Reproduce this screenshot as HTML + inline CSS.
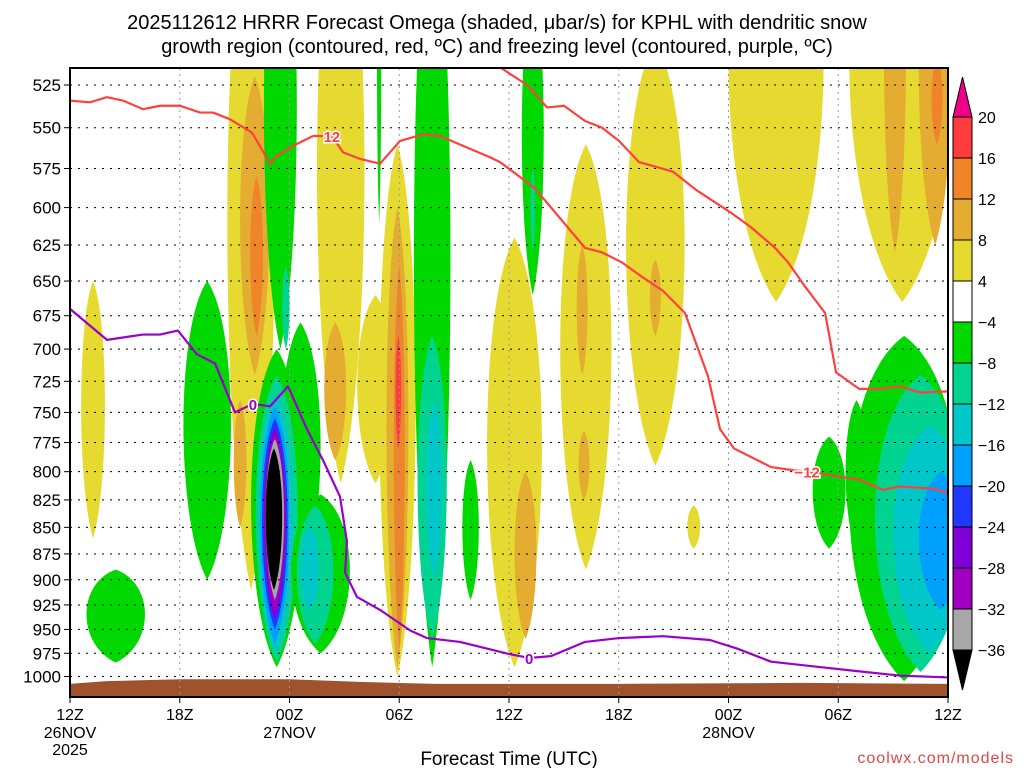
<!DOCTYPE html>
<html><head><meta charset="utf-8"><style>
body{margin:0;background:#fff;width:1024px;height:768px;overflow:hidden;font-family:"Liberation Sans",sans-serif}
svg text{font-family:"Liberation Sans",sans-serif}
</style></head><body>
<svg id="chart" width="1024" height="768" viewBox="0 0 1024 768" xmlns="http://www.w3.org/2000/svg">
<text x="497" y="29" font-size="20" text-anchor="middle" fill="#000">2025112612 HRRR Forecast Omega (shaded, μbar/s) for KPHL with dendritic snow</text>
<text x="497" y="53" font-size="20" text-anchor="middle" fill="#000">growth region (contoured, red, ºC) and freezing level (contoured, purple, ºC)</text>
<defs><clipPath id="plotclip"><rect x="70" y="68" width="878" height="629"/></clipPath></defs>
<g id="field" clip-path="url(#plotclip)"></g>
<g id="grid"></g>
<g id="contours" clip-path="url(#plotclip)"></g>
<rect x="70" y="68" width="878" height="629" fill="none" stroke="#000" stroke-width="2"/>
<g id="yaxis"></g>
<g id="xaxis"></g>
<text x="509" y="765" font-size="19" text-anchor="middle">Forecast Time (UTC)</text>
<text x="1014" y="763" font-size="16" text-anchor="end" fill="#e04848" letter-spacing="1">coolwx.com/models</text>
<g id="colorbar"></g>
</svg>
<script>
// ---- data ----
const pressureTicks=[525,550,575,600,625,650,675,700,725,750,775,800,825,850,875,900,925,950,975,1000];
const timeTicks=[0,6,12,18,24,30,36,42,48];
const timeLabels=["12Z","18Z","00Z","06Z","12Z","18Z","00Z","06Z","12Z"];
const dateLabels={0:["26NOV","2025"],12:["27NOV"],36:["28NOV"]};
const cbLevels=[20,16,12,8,4,-4,-8,-12,-16,-20,-24,-28,-32,-36];
// omega features: center hour, half-width (h), top p, bottom p, value
const blobHour=[1.26,9.9,10.1,10.2,9.3,14.8,16.7,14.5,17.9,17.9,18.0,17.95,24.3,24.9,28.2,28.0,28.1,32.0,32.0,34.1,38.6,45.5,45.1,47.3,47.4,
 2.5,7.5,11.5,12.6,11.8,11.3,11.3,11.25,11.2,11.2,11.2,11.2,11.2,11.15,13.7,13.4,13.1,19.8,19.8,19.9,21.9,16.9,25.3,25.3,45.6,41.5,43.0,46.5,47.0,47.6];
const blobHalfW=[0.65,1.3,0.8,0.35,0.35,1.3,1.0,0.6,1.0,0.6,0.3,0.15,1.5,0.6,1.4,0.3,0.3,1.6,0.3,0.35,2.6,2.9,0.6,0.9,0.3,
 1.6,1.3,0.9,1.1,0.2,1.4,1.15,0.95,0.8,0.7,0.6,0.55,0.5,0.45,1.6,1.0,0.5,1.0,0.8,0.45,0.45,0.12,0.6,0.12,3.0,0.9,0.6,2.5,2.0,1.2];
const blobTopP=[650,420,520,580,740,420,660,680,560,600,640,690,620,800,560,625,765,500,635,830,400,400,420,430,510,
 890,650,420,680,640,700,720,735,745,755,762,768,772,780,820,830,850,420,690,740,790,420,470,575,690,770,740,720,760,800];
const blobBotP=[860,910,720,690,850,810,810,790,1000,990,970,780,990,960,890,720,825,795,690,870,665,665,630,625,560,
 985,900,700,900,700,990,985,975,965,950,940,932,920,910,975,965,930,990,960,900,920,610,660,630,1005,870,870,995,975,930];
const blobValue=[6,6,10,14,10,6,6,10,6,10,14,18,6,10,6,10,10,6,10,6,6,6,10,10,14,
 -6,-6,-6,-6,-10,-6,-10,-14,-18,-22,-26,-30,-34,-38,-6,-10,-14,-6,-10,-14,-6,-6,-6,-10,-6,-6,-6,-10,-14,-18];
const sfcHour=[0,2,6,12,16,20,30,40,48];
const sfcP=[1008,1005,1003,1003,1006,1008,1008,1007,1008];
const redAHour=[0,1.09,2.02,2.9,3.99,4.92,6.01,7.11,7.82,8.75,9.95,10.94,11.32,12.19,13.29,14.32,14.93,15.86,16.95,18.04,19.3,20.23,21.49,22.96,23.51,25.37,26.3,28.16,29.09,30.18,31.27,32.42,33.62,34.88,35.54,36.3,38.33,39.64,40.3,43.14,44.45,45.38,47.24,48];
const redAP=[534,535,532,534,539,537,537,541,541,545,553,572,567,561,555,555,565,569,572,558,554,555,561,568,571,587,600,627,630,637,647,657,673,721,764,780,796,799,800,807,816,813,815,819];
const redBHour=[23.0,23.51,24.99,26.08,27.01,28.16,29.09,30.02,31.11,32.97,34.28,36.09,37.23,38.55,39.26,40.19,41.28,41.88,43.14,44.29,45.38,46.47,48];
const redBP=[512,515,525,538,537,546,550,558,571,577,589,603,613,627,637,654,673,718,731,731,729,734,733];
const purpleHour=[0,2.02,3.99,4.92,5.9,6.94,7.93,9.02,10.0,10.94,11.92,12.96,13.83,14.76,15.14,15.04,15.69,16.95,18.59,19.52,21.32,24.06,25.1,26.3,28.16,30.02,32.42,34.99,36.47,38.33,41.12,42.97,45.38,48];
const purpleP=[670,693,689,689,686,704,711,750,743,745,729,764,790,822,863,893,917,930,951,959,963,976,980,978,963,959,957,961,970,984,990,994,999,1001];

// ---- axes ----
const X0=70,X1=948,YTOP=85,PTOP=525,K=918;
const xs=h=>X0+(X1-X0)*h/48;
const ys=p=>YTOP+K*Math.log(p/PTOP);
const NS="http://www.w3.org/2000/svg";
function mk(tag,attrs,parent){const e=document.createElementNS(NS,tag);for(const k in attrs)e.setAttribute(k,attrs[k]);parent.appendChild(e);return e;}
function color(v){
 if(v>20)return"#ee0088";if(v>16)return"#ff3c3c";if(v>12)return"#f08428";if(v>8)return"#e4ac30";if(v>4)return"#e6da30";
 if(v>-4)return"#ffffff";if(v>-8)return"#00d800";if(v>-12)return"#00d490";if(v>-16)return"#00c8c8";if(v>-20)return"#00a0ff";
 if(v>-24)return"#2038ff";if(v>-28)return"#8000d8";if(v>-32)return"#a000c0";if(v>-36)return"#a8a8a8";return"#000000";}

const field=document.getElementById('field');
for(let i=0;i<blobHour.length;i++){
 const cx=xs(blobHour[i]),w=(X1-X0)*blobHalfW[i]/48*1.333,y1=ys(blobTopP[i]),y2=ys(blobBotP[i]),hh=y2-y1;
 const d=`M${cx},${y1} C${cx+w},${y1+hh*0.15} ${cx+w},${y2-hh*0.2} ${cx},${y2} C${cx-w},${y2-hh*0.2} ${cx-w},${y1+hh*0.15} ${cx},${y1}Z`;
 const el=mk('path',{d:d,fill:color(blobValue[i])},field);
 
 
}
// ground
let gd=`M${xs(0)},700`;
for(let i=0;i<sfcHour.length;i++)gd+=` L${xs(sfcHour[i])},${ys(sfcP[i])}`;
gd+=` L${xs(48)},700Z`;
const ground=mk('path',{d:gd,fill:"#a0522d"},field);



// grid
const grid=document.getElementById('grid'),yax=document.getElementById('yaxis'),xax=document.getElementById('xaxis');
pressureTicks.forEach(p=>{
 const y=ys(p);
 const gl=mk('line',{x1:X0,x2:X1,y1:y,y2:y,stroke:"#000","stroke-width":1,"stroke-dasharray":"2,6"},grid);
 
 
 mk('line',{x1:X0-6,x2:X0,y1:y,y2:y,stroke:"#000"},yax);
 const t=mk('text',{x:61,y:y+6,"font-size":17,"text-anchor":"end"},yax);
 t.textContent=p;
 
 
});
timeTicks.forEach((h,i)=>{
 const x=xs(h);
 if(i>0&&i<timeTicks.length-1){const gl=mk('line',{x1:x,x2:x,y1:68,y2:697,stroke:"#999","stroke-width":1,"stroke-dasharray":"2,4"},grid);
  
  }
 mk('line',{x1:x,x2:x,y1:697,y2:703,stroke:"#000"},xax);
 const t=mk('text',{x:x,y:720,"font-size":16,"text-anchor":"middle"},xax);
 t.textContent=timeLabels[i];
 
 
 (dateLabels[h]||[]).forEach((s,j)=>{const d=mk('text',{x:x,y:738+j*17,"font-size":16,"text-anchor":"middle"},xax);d.textContent=s;
  
  });
});

// contours
const ct=document.getElementById('contours');
function line(hs,ps,col,name){
 let d='';hs.forEach((h,i)=>{d+=(i?' L':'M')+xs(h)+','+ys(ps[i]);});
 const e=mk('path',{d:d,fill:"none",stroke:col,"stroke-width":2.2,"stroke-linejoin":"round"},ct);
 
 
}
line(redAHour,redAP,"#ff4040","dgz-contour-minus12-a");
line(redBHour,redBP,"#ff4040","dgz-contour-minus12-b");
line(purpleHour,purpleP,"#9a00cc","freezing-level-contour");
function lab(h,p,s,col,name){
 const x=xs(h),y=ys(p);
 const t=mk('text',{x:x,y:y+6,"font-size":15,"font-weight":"bold","text-anchor":"middle",fill:col,stroke:"#fff","stroke-width":3,"paint-order":"stroke"},ct);
 t.textContent=s;
 
 
}
lab(redAHour[15],redAP[15],"12","#ff4040","contour-label-12");
lab(redAHour[38],redAP[38],"−12","#ff4040","contour-label-minus12");
lab(purpleHour[8],purpleP[8],"0","#9a00cc","contour-label-0a");
lab(purpleHour[22],purpleP[22],"0","#9a00cc","contour-label-0b");

// colorbar
const cb=document.getElementById('colorbar');
const cbX=953,cbW=19,cbTop=117,cbStep=41;
mk('path',{d:`M${cbX},${cbTop} L${cbX+cbW/2},${cbTop-40} L${cbX+cbW},${cbTop}Z`,fill:"#ee0088",stroke:"#000"},cb);
for(let i=0;i<cbLevels.length-1;i++){
 const y=cbTop+i*cbStep;
 const r=mk('rect',{x:cbX,y:y,width:cbW,height:cbStep,fill:color((cbLevels[i]+cbLevels[i+1])/2),stroke:"#000","stroke-width":1},cb);
 
 
}
const yb=cbTop+(cbLevels.length-1)*cbStep;
mk('path',{d:`M${cbX},${yb} L${cbX+cbW/2},${yb+40} L${cbX+cbW},${yb}Z`,fill:"#000",stroke:"#000"},cb);
cbLevels.forEach((v,i)=>{
 const t=mk('text',{x:978,y:cbTop+i*cbStep+6,"font-size":16},cb);
 t.textContent=(v<0?'−':'')+Math.abs(v);
 
 
});
</script>
</body></html>
